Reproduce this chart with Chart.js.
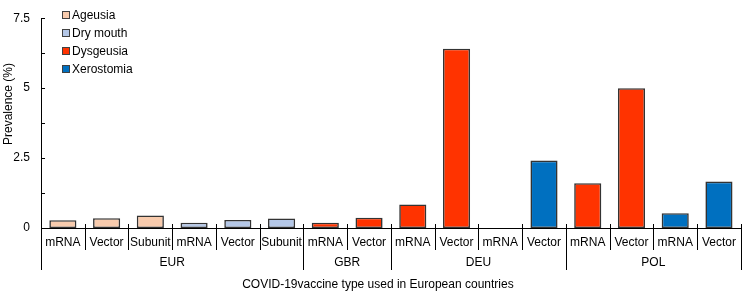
<!DOCTYPE html>
<html>
<head>
<meta charset="utf-8">
<script src="https://cdn.jsdelivr.net/npm/chart.js@4"></script>
<style>
  html, body { margin: 0; padding: 0; background: #fff; }
  #wrap { width: 743px; height: 292px; position: relative; }
</style>
</head>
<body>
<div id="wrap"><canvas id="barChart"></canvas></div>
<script>
// vaccine type per bar, and the country groups under them
var categories = ['mRNA', 'Vector', 'Subunit', 'mRNA', 'Vector', 'Subunit', 'mRNA', 'Vector',
                  'mRNA', 'Vector', 'mRNA', 'Vector', 'mRNA', 'Vector', 'mRNA', 'Vector'];
var groupNames = ['EUR', 'GBR', 'DEU', 'POL'];
var groupSizes = [6, 2, 4, 4];

var ageusia    = [0.28, 0.35, 0.45, null, null, null, null, null, null, null, null, null, null, null, null, null];
var dryMouth   = [null, null, null, 0.19, 0.29, 0.34, null, null, null, null, null, null, null, null, null, null];
var dysgeusia  = [null, null, null, null, null, null, 0.19, 0.37, 0.84, 6.41, null, null, 1.6, 5.0, null, null];
var xerostomia = [null, null, null, null, null, null, null, null, null, null, 0, 2.41, null, null, 0.53, 1.66];

var yTickLabels = [0, 2.5, 5, 7.5];

var FONT = 'Arial, "Liberation Sans", sans-serif';

var extras = {
  id: 'extras',
  afterDraw: function (chart) {
    var c = chart.ctx;
    var xs = chart.scales.x, ys = chart.scales.y;
    var y0 = ys.getPixelForValue(0);
    var step = (xs.right - xs.left) / categories.length;
    c.save();
    c.strokeStyle = '#000';
    c.lineWidth = 1;

    // inner tick marks on y axis
    ys.ticks.forEach(function (t) {
      var py = Math.round(ys.getPixelForValue(t.value)) + 0.5;
      c.beginPath();
      c.moveTo(xs.left, py);
      c.lineTo(xs.left + 4, py);
      c.stroke();
    });

    // dividers between categories / groups
    var bounds = [0];
    groupSizes.reduce(function (a, n) { bounds.push(a + n); return a + n; }, 0);
    for (var i = 0; i <= categories.length; i++) {
      var px = Math.round(xs.left + i * step) + 0.5;
      var long = bounds.indexOf(i) >= 0;
      c.beginPath();
      c.moveTo(px, y0 - 4);
      c.lineTo(px, long ? y0 + 42 : y0 + 22);
      c.stroke();
    }

    // group labels
    c.fillStyle = '#000';
    c.font = '12px ' + FONT;
    c.textAlign = 'center';
    c.textBaseline = 'middle';
    var start = 0;
    groupNames.forEach(function (g, k) {
      var mid = xs.left + (start + groupSizes[k] / 2) * step;
      c.fillText(g, mid, y0 + 35);
      start += groupSizes[k];
    });

    // axis titles
    c.fillText('COVID-19vaccine type used in European countries', (xs.left + xs.right) / 2 - 13, y0 + 57);
    c.save();
    c.translate(9, 104);
    c.rotate(-Math.PI / 2);
    c.fillText('Prevalence (%)', 0, 0);
    c.restore();

    // legend
    c.textAlign = 'left';
    chart.data.datasets.forEach(function (ds, k) {
      var ly = 15 + k * 18;
      c.fillStyle = ds.backgroundColor;
      c.fillRect(63, ly - 3, 6, 6);
      c.strokeStyle = '#404040';
      c.strokeRect(62.5, ly - 3.5, 7, 7);
      c.fillStyle = '#000';
      c.fillText(ds.label, 72, ly + 0.5);
    });
    c.restore();
  }
};

function series(label, values, color) {
  return {
    label: label,
    data: values,
    backgroundColor: color,
    borderColor: '#333333',
    borderWidth: 1.6,
    borderSkipped: false,
    barPercentage: 0.62,
    categoryPercentage: 1.0
  };
}

var ctx = document.getElementById('barChart').getContext('2d');
var myBarChart = new Chart(ctx, {
  type: 'bar',
  data: {
    labels: categories,
    datasets: [
      series('Ageusia', ageusia, '#F8CBAD'),
      series('Dry mouth', dryMouth, '#B4C7E7'),
      series('Dysgeusia', dysgeusia, '#FF3300'),
      series('Xerostomia', xerostomia, '#0070C0')
    ]
  },
  options: {
    responsive: true,
    maintainAspectRatio: false,
    animation: false,
    layout: { padding: { top: 6, right: 1, left: 0, bottom: 0 } },
    plugins: { legend: { display: false }, tooltip: { enabled: false } },
    scales: {
      x: {
        stacked: true,
        grid: { display: false, drawTicks: false },
        border: { display: true, color: '#000', width: 1 },
        ticks: {
          color: '#000',
          font: { family: FONT, size: 12 },
          padding: 7,
          maxRotation: 0,
          autoSkip: false
        },
        afterFit: function (s) { s.height = 64; }
      },
      y: {
        stacked: true,
        min: 0,
        max: 7.5,
        grid: { display: false, drawTicks: false },
        border: { display: true, color: '#000', width: 1 },
        ticks: {
          stepSize: 1.25,
          color: '#000',
          padding: 11,
          font: { family: FONT, size: 12 },
          callback: function (v) { return yTickLabels.indexOf(v) >= 0 ? String(v) : ''; }
        },
        afterFit: function (s) { s.width = 41; }
      }
    }
  },
  plugins: [extras]
});
</script>
</body>
</html>
